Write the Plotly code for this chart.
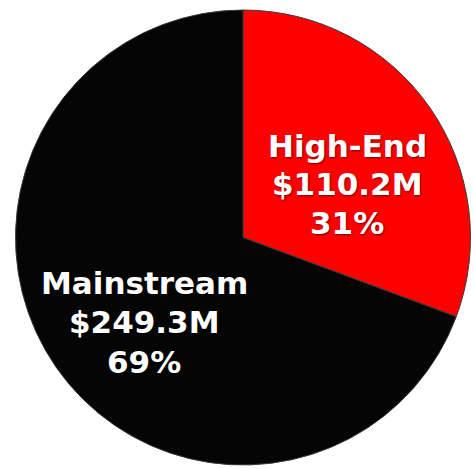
import plotly.graph_objects as go

labels = ["High-End", "Mainstream"]
values = [110.2, 249.3]
colors = ["#ff0000", "#050505"]
# label anchor positions in pixels (centre of text block), and line spacing
label_px = [(347, 184), (144, 322)]
line_gap = [38.5, 39.5]

W, H = 474, 469
total = sum(values)

fig = go.Figure(go.Pie(
    labels=labels,
    values=values,
    sort=False,
    direction="clockwise",
    rotation=0,
    marker=dict(colors=colors, line=dict(color="#3a3a3a", width=1)),
    textinfo="none",
    hoverinfo="skip",
    showlegend=False,
    domain=dict(x=[15/W, 471/W], y=[1-465/H, 1-10/H]),
))

font = dict(family="DejaVu Sans, Liberation Sans, Arial, sans-serif", size=31,
            color="white", weight="bold", shadow="1px 1px 2px rgba(0,0,0,0.55)")
for lab, val, (cx, cy), gap in zip(labels, values, label_px, line_gap):
    lines = [lab, f"${val:.1f}M", f"{round(100*val/total)}%"]
    for i, t in enumerate(lines):
        ypx = cy + (i - 1) * gap
        fig.add_annotation(
            x=cx / W, y=1 - ypx / H, xref="paper", yref="paper",
            text=t, showarrow=False, xanchor="center", yanchor="middle",
            font=font,
        )

fig.update_layout(
    width=W, height=H,
    margin=dict(l=0, r=0, t=0, b=0),
    paper_bgcolor="white",
    plot_bgcolor="white",
    showlegend=False,
)

fig.write_html("out.html")
